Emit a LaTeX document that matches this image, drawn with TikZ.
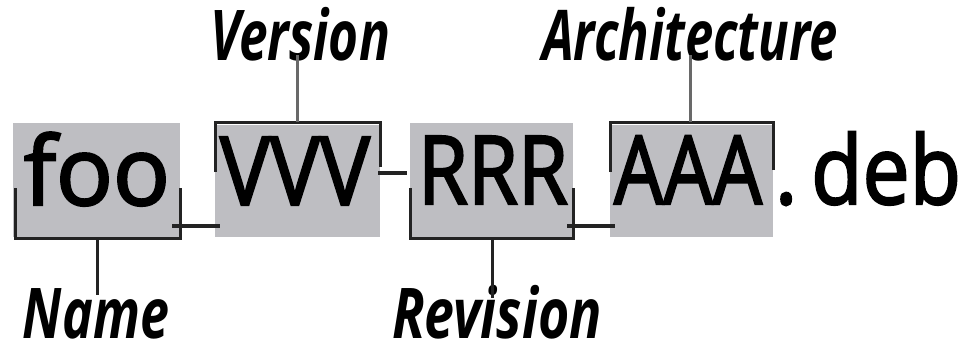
\documentclass[tikz,border=0pt]{standalone}
\usepackage{fontspec}
\setmainfont{Open Sans}
\newfontfamily\wordfont{Open Sans}[FakeBold=2.5]
\definecolor{boxgray}{RGB}{190,190,194}
\definecolor{rule}{RGB}{35,35,35}
\definecolor{leadgray}{RGB}{105,105,105}
% set a word to a given width, keeping its natural height
\newcommand\fitw[2]{\resizebox{#1}{\height}{#2}}
\tikzset{
  word/.style={inner sep=0pt, anchor=base, font=\wordfont\fontsize{95}{95}\selectfont},
  part/.style={fill=boxgray, draw=none},
  bracket/.style={draw=rule, line width=3pt, line cap=butt, line join=miter},
  sep/.style={draw=rule, line width=4pt},
  lbl/.style={inner sep=0pt, anchor=base, font=\fontsize{70}{70}\selectfont\bfseries\itshape},
  lead/.style={draw=leadgray, line width=3pt},
  leaddark/.style={draw=rule, line width=3pt}
}
\begin{document}
\begin{tikzpicture}[x=1pt,y=-1pt]
\useasboundingbox (0,0) rectangle (961,351);

% shaded fields of the file name
\path[part] (13,123) rectangle (180,237);
\path[part] (215,125) rectangle (380,237);
\path[part] (410,123) rectangle (573,238);
\path[part] (610,125) rectangle (773,237);

% the file name itself
\node[word] (foo) at (97,205) {\fitw{146pt}{foo}};
\node[word] (vvv) at (295,205) {\fitw{150pt}{VVV}};
\node[word] (rrr) at (493,204) {\fitw{150pt}{RRR}};
\node[word] (aaa) at (688,204) {\fitw{148pt}{AAA}};
\node[word] (deb) at (868,204) {\fitw{186pt}{.\,deb}};

% separators between the fields
\coordinate (u1a) at (172,226); \coordinate (u1b) at (220,226);
\coordinate (h1a) at (378,173); \coordinate (h1b) at (407,173);
\coordinate (u2a) at (567,226); \coordinate (u2b) at (615,226);
\draw[sep] (u1a) -- (u1b);
\draw[sep] (h1a) -- (h1b);
\draw[sep] (u2a) -- (u2b);

% brackets around the fields
\coordinate (brName) at (97,238);
\coordinate (brVer)  at (297,122);
\coordinate (brRev)  at (492,238);
\coordinate (brArch) at (690,122);
\draw[bracket] (15,188) -- (15,238) -- (180,238) -- (180,188);
\draw[bracket] (215,172) -- (215,122) -- (380,122) -- (380,167);
\draw[bracket] (410,188) -- (410,238) -- (573,238) -- (573,188);
\draw[bracket] (610,172) -- (610,122) -- (773,122) -- (773,170);

% labels
\node[lbl] (lVer)  at (300,60)  {\fitw{180pt}{Version}};
\node[lbl] (lArch) at (690,60)  {\fitw{296pt}{Architecture}};
\node[lbl] (lName) at (96,338)  {\fitw{146pt}{Name}};
\node[lbl] (lRev)  at (497,338) {\fitw{210pt}{Revision}};

% leader lines from labels to brackets
\draw[lead] ([yshift=5pt]lVer.base -| brVer) -- (brVer);
\draw[lead] ([yshift=5pt]lArch.base -| brArch) -- (brArch);
\draw[leaddark] (brName) -- ([yshift=43pt]lName.base -| brName);
\draw[leaddark] (brRev) -- ([yshift=40pt]lRev.base -| brRev);
\end{tikzpicture}
\end{document}
